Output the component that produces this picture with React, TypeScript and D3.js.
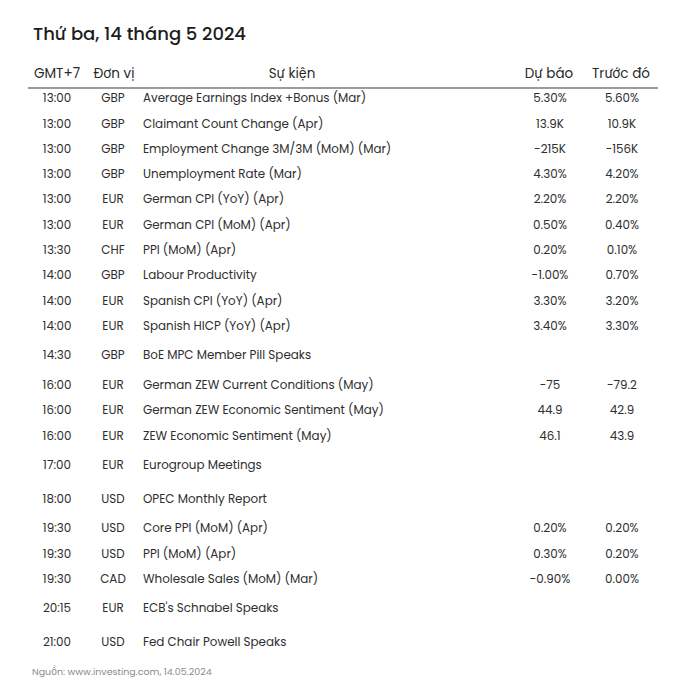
import React from 'react';
import * as d3 from 'd3';

const title = 'Thứ ba, 14 tháng 5 2024';
const headers = ['GMT+7', 'Đơn vị', 'Sự kiện', 'Dự báo', 'Trước đó'];
const source = 'Nguồn: www.investing.com, 14.05.2024';

const times = ['13:00', '13:00', '13:00', '13:00', '13:00', '13:00', '13:30', '14:00', '14:00', '14:00', '14:30',
  '16:00', '16:00', '16:00', '17:00', '18:00', '19:30', '19:30', '19:30', '20:15', '21:00'];
const units = ['GBP', 'GBP', 'GBP', 'GBP', 'EUR', 'EUR', 'CHF', 'GBP', 'EUR', 'EUR', 'GBP',
  'EUR', 'EUR', 'EUR', 'EUR', 'USD', 'USD', 'USD', 'CAD', 'EUR', 'USD'];
const events = [
  'Average Earnings Index +Bonus (Mar)',
  'Claimant Count Change (Apr)',
  'Employment Change 3M/3M (MoM) (Mar)',
  'Unemployment Rate (Mar)',
  'German CPI (YoY) (Apr)',
  'German CPI (MoM) (Apr)',
  'PPI (MoM) (Apr)',
  'Labour Productivity',
  'Spanish CPI (YoY) (Apr)',
  'Spanish HICP (YoY) (Apr)',
  'BoE MPC Member Pill Speaks',
  'German ZEW Current Conditions (May)',
  'German ZEW Economic Sentiment (May)',
  'ZEW Economic Sentiment (May)',
  'Eurogroup Meetings',
  'OPEC Monthly Report',
  'Core PPI (MoM) (Apr)',
  'PPI (MoM) (Apr)',
  'Wholesale Sales (MoM) (Mar)',
  "ECB's Schnabel Speaks",
  'Fed Chair Powell Speaks',
];
const forecasts = ['5.30%', '13.9K', '-215K', '4.30%', '2.20%', '0.50%', '0.20%', '-1.00%', '3.30%', '3.40%', '',
  '-75', '44.9', '46.1', '', '', '0.20%', '0.30%', '-0.90%', '', ''];
const previous = ['5.60%', '10.9K', '-156K', '4.20%', '2.20%', '0.40%', '0.10%', '0.70%', '3.20%', '3.30%', '',
  '-79.2', '42.9', '43.9', '', '', '0.20%', '0.20%', '0.00%', '', ''];

const W = 700;
const H = 688;
const FONT = 'Poppins, Inter, "Noto Sans", sans-serif';

export default function App() {
  // column x positions
  const colX = d3.scaleOrdinal<string, number>()
    .domain(['time', 'unit', 'event', 'fc', 'prev'])
    .range([57, 113, 143, 550, 622]);
  const headerX = d3.scaleOrdinal<string, number>()
    .domain(headers)
    .range([57, 114, 292, 549, 621]);

  // row heights: rows without numbers are taller
  const heights = events.map((_, i) => (forecasts[i] === '' ? 33.7 : 25.3));
  const ends = Array.from(d3.cumsum(heights));
  const top = 85;
  const center = (i: number) => top + ends[i] - heights[i] / 2;

  return (
    <svg width={W} height={H} style={{ position: 'absolute', left: 0, top: 0, background: '#fff' }}>
      <text x={33} y={40} fontFamily={FONT} fontSize={18} fontWeight={500} fill="#1c1c1c">{title}</text>
      {headers.map((h) => (
        <text key={h} x={headerX(h)} y={78} textAnchor="middle" fontFamily={FONT} fontSize={13.5} fill="#2a2a2a">{h}</text>
      ))}
      <line x1={28} x2={658} y1={88} y2={88} stroke="#7a7a7a" strokeWidth={1.5} />
      {events.map((ev, i) => {
        const y = center(i) + 4.6;
        return (
          <g key={i} fontFamily={FONT} fontSize={11.9} fill="#2e2e2e">
            <text x={colX('time')} y={y} textAnchor="middle">{times[i]}</text>
            <text x={colX('unit')} y={y} textAnchor="middle">{units[i]}</text>
            <text x={colX('event')} y={y}>{ev}</text>
            <text x={colX('fc')} y={y} textAnchor="middle">{forecasts[i]}</text>
            <text x={colX('prev')} y={y} textAnchor="middle">{previous[i]}</text>
          </g>
        );
      })}
      <text x={32} y={675} fontFamily={FONT} fontSize={9.5} fill="#8a8a8a">{source}</text>
    </svg>
  );
}
